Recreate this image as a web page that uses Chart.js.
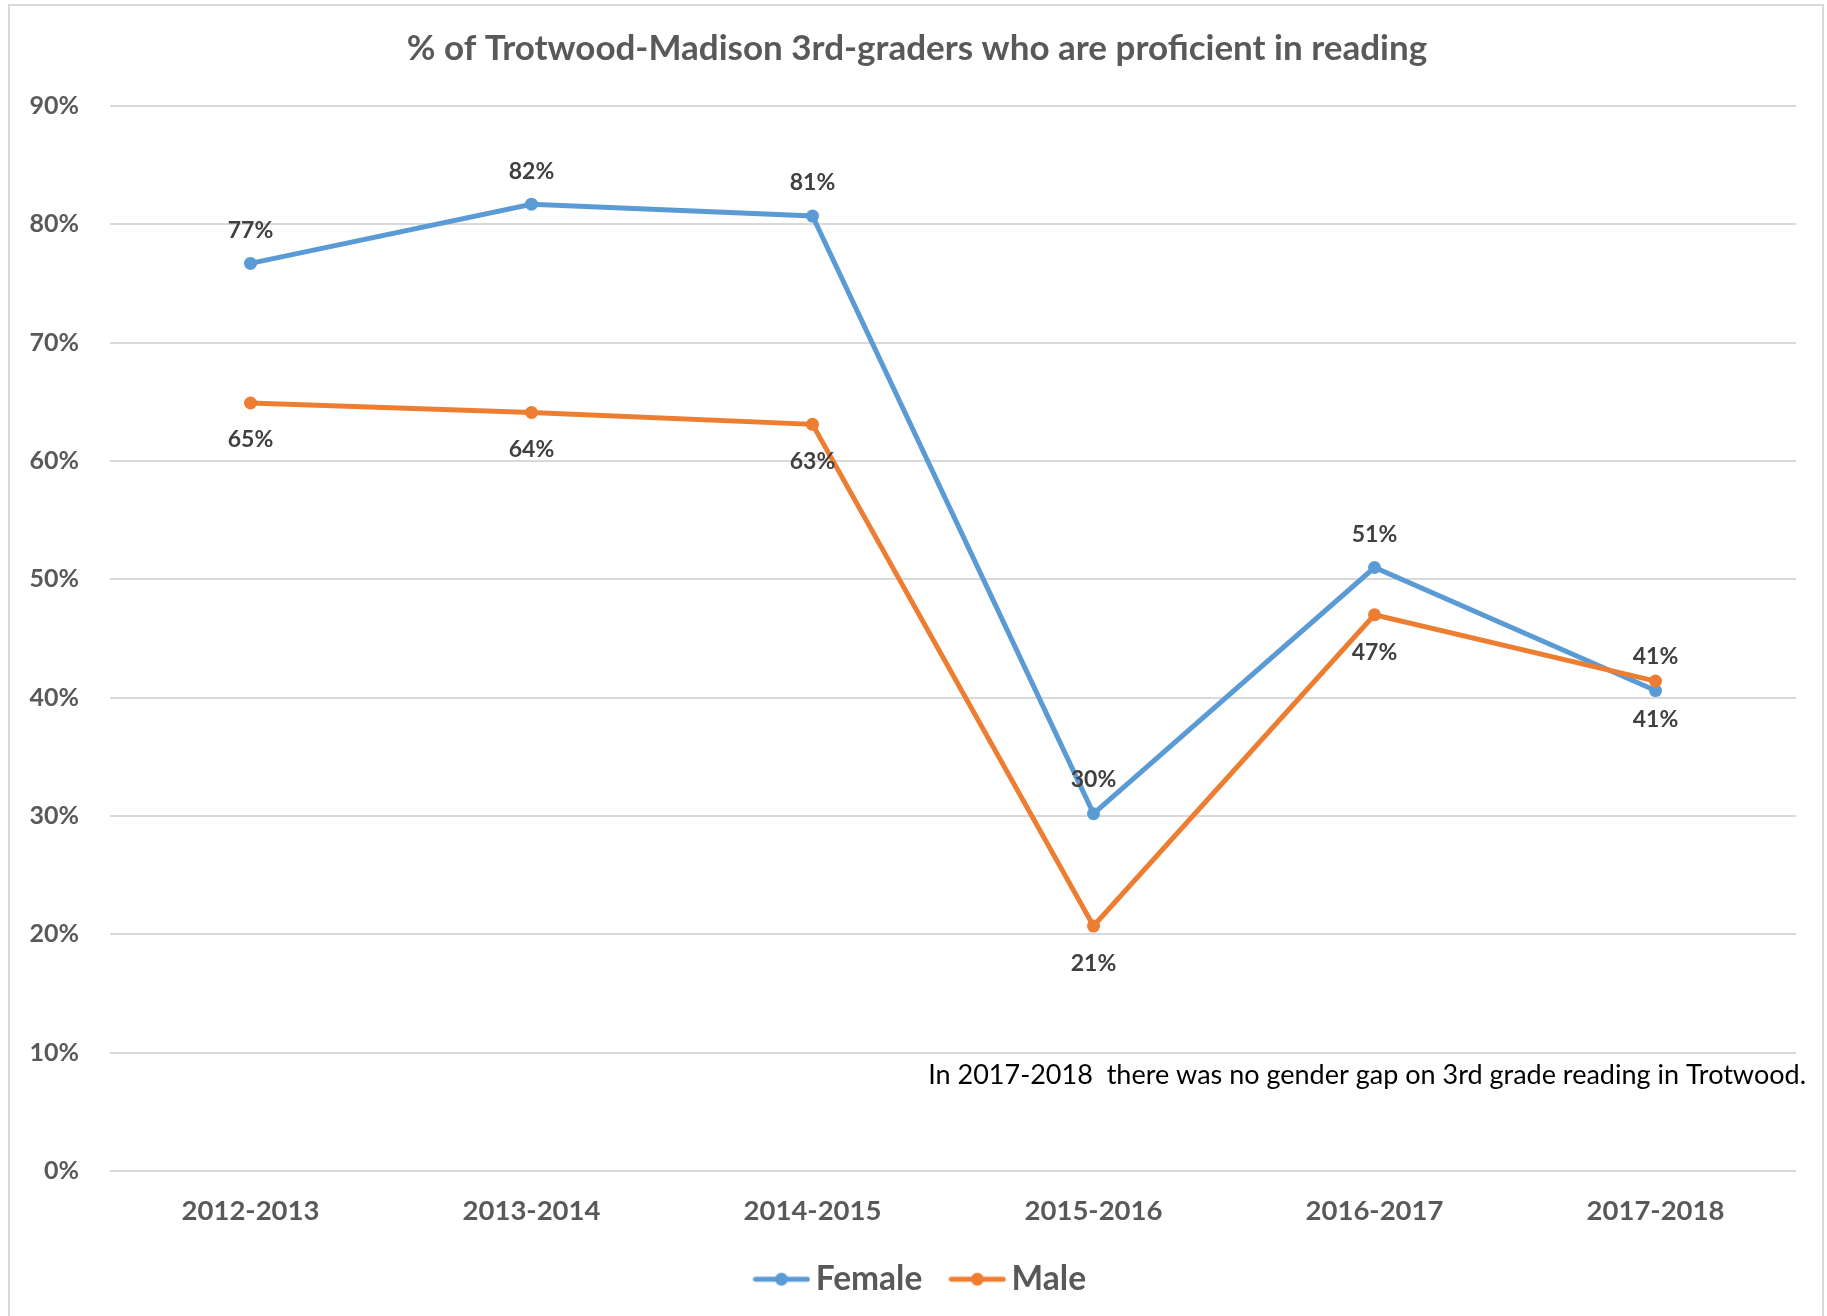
<!DOCTYPE html>
<html lang="en">
<head>
  <meta charset="UTF-8">
  <title>% of Trotwood-Madison 3rd-graders who are proficient in reading</title>
  <script src="https://cdn.jsdelivr.net/npm/chart.js"></script>
  <style>
    html, body {
      margin: 0;
      padding: 0;
      background: #ffffff;
    }
    canvas {
      display: block;
    }
  </style>
</head>
<body>

<canvas id="grafico" width="1827" height="1316"></canvas>

<script>
// data (percent)
const years = ['2012-2013', '2013-2014', '2014-2015', '2015-2016', '2016-2017', '2017-2018'];
const female = [76.7, 81.7, 80.7, 30.2, 51.0, 40.6];
const male = [64.9, 64.1, 63.1, 20.7, 47.0, 41.4];
const seriesNames = ['Female', 'Male'];
const yMin = 0, yMax = 90, yStep = 10;

const titleText = '% of Trotwood-Madison 3rd-graders who are proficient in reading';
const noteText = 'In 2017-2018  there was no gender gap on 3rd grade reading in Trotwood.';

const BLUE = '#5b9bd5';
const ORANGE = '#ed7d31';
const GREY_TXT = '#595959';
const GRID = '#d9d9d9';
const FONT = 'Lato, "Open Sans", Arial, sans-serif';

// vertical offset (px) of each value label from its point
const labelOffset = [
  [-33, -33, -33, -34, -33, 29],
  [37, 37, 37, 38, 38, -25]
];

function legendIcon(color) {
  const c = document.createElement('canvas');
  c.width = 58;
  c.height = 16;
  const g = c.getContext('2d');
  g.strokeStyle = color;
  g.lineWidth = 5;
  g.lineCap = 'round';
  g.beginPath();
  g.moveTo(3, 8);
  g.lineTo(55, 8);
  g.stroke();
  g.fillStyle = color;
  g.beginPath();
  g.arc(29, 8, 6.5, 0, Math.PI * 2);
  g.fill();
  return c;
}
const icons = [legendIcon(BLUE), legendIcon(ORANGE)];

const framePlugin = {
  id: 'frame',
  beforeDraw(chart) {
    const ctx = chart.ctx;
    ctx.save();
    ctx.fillStyle = '#ffffff';
    ctx.fillRect(0, 0, chart.width, chart.height);
    ctx.strokeStyle = GRID;
    ctx.lineWidth = 2;
    ctx.strokeRect(9, 5, 1814, 1330);
    ctx.restore();
  },
  // title and legend sit a bit right of the plot centre in the original
  afterLayout(chart) {
    chart.titleBlock.left += 14;
    chart.titleBlock.right += 14;
    chart.legend.left += 22;
    chart.legend.right += 22;
  }
};

const valueLabels = {
  id: 'valueLabels',
  afterDatasetsDraw(chart) {
    const ctx = chart.ctx;
    ctx.save();
    ctx.font = 'bold 23px ' + FONT;
    ctx.fillStyle = '#404040';
    ctx.textAlign = 'center';
    ctx.textBaseline = 'middle';
    chart.data.datasets.forEach((ds, i) => {
      const meta = chart.getDatasetMeta(i);
      meta.data.forEach((pt, j) => {
        ctx.fillText(Math.round(ds.data[j]) + '%', pt.x, pt.y + labelOffset[i][j]);
      });
    });

    // note in the lower right of the plot
    const y = chart.scales.y.getPixelForValue(8.1);
    ctx.font = '27px ' + FONT;
    ctx.fillStyle = '#000000';
    ctx.textAlign = 'right';
    ctx.fillText(noteText, chart.chartArea.right + 10, y);
    ctx.restore();
  }
};

const ctx = document.getElementById('grafico').getContext('2d');

new Chart(ctx, {
  type: 'line',
  data: {
    labels: years,
    datasets: [
      {
        label: seriesNames[0],
        data: female,
        borderColor: BLUE,
        backgroundColor: BLUE,
        pointBackgroundColor: BLUE,
        borderWidth: 5,
        pointRadius: 6.5,
        pointBorderWidth: 0,
        tension: 0,
        order: 2
      },
      {
        label: seriesNames[1],
        data: male,
        borderColor: ORANGE,
        backgroundColor: ORANGE,
        pointBackgroundColor: ORANGE,
        borderWidth: 5,
        pointRadius: 6.5,
        pointBorderWidth: 0,
        tension: 0,
        order: 1
      }
    ]
  },
  options: {
    responsive: false,
    animation: false,
    devicePixelRatio: 1,
    layout: {
      padding: { top: 10, left: 10, right: 31, bottom: 10 }
    },
    scales: {
      x: {
        offset: true,
        grid: { display: false },
        border: { display: false },
        ticks: {
          color: GREY_TXT,
          font: { family: FONT, size: 27.5, weight: 'bold' },
          padding: 16,
          maxRotation: 0
        },
        afterFit(scale) { scale.height = 54; }
      },
      y: {
        min: yMin,
        max: yMax,
        grid: { color: GRID, lineWidth: 2, drawTicks: false },
        border: { display: false },
        ticks: {
          stepSize: yStep,
          color: GREY_TXT,
          font: { family: FONT, size: 25, weight: 'bold' },
          padding: 31,
          callback: v => v + '%'
        },
        afterFit(scale) { scale.width = 100; }
      }
    },
    plugins: {
      title: {
        display: true,
        text: titleText,
        color: GREY_TXT,
        font: { family: FONT, size: 35, weight: 'bold' },
        padding: { top: 18, bottom: 36 }
      },
      legend: {
        position: 'bottom',
        labels: {
          usePointStyle: true,
          pointStyleWidth: 35,
          padding: 37.5,
          color: GREY_TXT,
          font: { family: FONT, size: 33.5, weight: 'bold' },
          sort: (a, b) => a.datasetIndex - b.datasetIndex,
          generateLabels(chart) {
            const items = Chart.defaults.plugins.legend.labels.generateLabels(chart);
            items.forEach(it => { it.pointStyle = icons[it.datasetIndex]; });
            return items;
          }
        }
      },
      tooltip: { enabled: false }
    }
  },
  plugins: [framePlugin, valueLabels]
});
</script>

</body>
</html>
